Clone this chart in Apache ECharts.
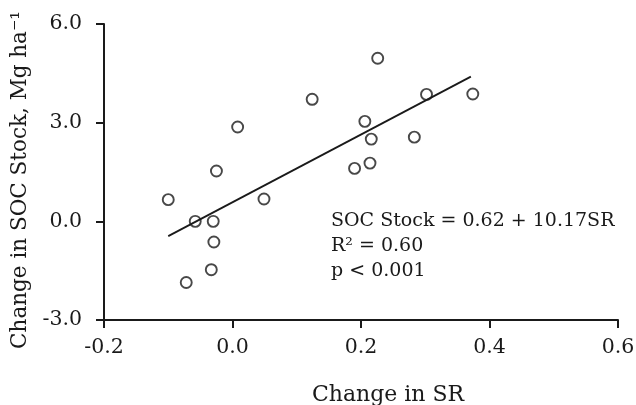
<!DOCTYPE html>
<html><head><meta charset="utf-8">
<script src="https://cdn.jsdelivr.net/npm/echarts@6/dist/echarts.min.js"></script>
<style>html,body{margin:0;padding:0;background:#fff;}#c{width:636px;height:405px;}</style>
</head><body><div id="c"></div>
<script>
// Data
const srChange = [0.124, 0.008, -0.025, -0.100, 0.049, 0.226, 0.302, 0.374, 0.206, 0.216, 0.283, 0.214, 0.190, -0.058, -0.030, -0.029, -0.033, -0.072];
const socChange = [3.71, 2.87, 1.53, 0.66, 0.68, 4.96, 3.86, 3.87, 3.04, 2.50, 2.56, 1.77, 1.61, 0.00, 0.00, -0.63, -1.47, -1.86];
const fitX = [-0.100, 0.371];
const fitY = [-0.45, 4.40];
const xTicks = [-0.2, 0.0, 0.2, 0.4, 0.6];
const yTicks = [-3.0, 0.0, 3.0, 6.0];
const annotation = ['SOC Stock = 0.62 + 10.17SR', 'R² = 0.60', 'p < 0.001'];

const FONT = 'DejaVu Serif';
const chart = echarts.init(document.getElementById('c'));
chart.setOption({
  animation: false,
  backgroundColor: '#fff',
  grid: {left: 104, right: 18, top: 24, bottom: 85, containLabel: false, outerBoundsMode: 'none'},
  xAxis: {
    type: 'value', min: xTicks[0], max: xTicks[xTicks.length-1], interval: 0.2,
    splitLine: {show: false},
    axisLine: {onZero: false, lineStyle: {color: '#1a1a1a', width: 2}},
    axisTick: {length: 8, lineStyle: {color: '#1a1a1a', width: 2}},
    axisLabel: {margin: 17, color: '#1a1a1a', fontFamily: FONT, fontSize: 20.5,
      formatter: v => v.toFixed(1)},
    name: 'Change in SR', nameLocation: 'middle', nameGap: 64,
    nameTextStyle: {color: '#1a1a1a', fontFamily: FONT, fontSize: 22, padding: [0, 0, 0, 54]}
  },
  yAxis: {
    type: 'value', min: yTicks[0], max: yTicks[yTicks.length-1], interval: 3,
    splitLine: {show: false},
    axisLine: {show: true, onZero: false, lineStyle: {color: '#1a1a1a', width: 2}},
    axisTick: {show: true, length: 8, lineStyle: {color: '#1a1a1a', width: 2}},
    axisLabel: {margin: 22, color: '#1a1a1a', fontFamily: FONT, fontSize: 20.5,
      formatter: v => v.toFixed(1)},
    name: 'Change in SOC Stock, Mg ha⁻¹', nameLocation: 'middle', nameGap: 66,
    nameTextStyle: {color: '#1a1a1a', fontFamily: FONT, fontSize: 21.5, padding: [0, 16, 0, 0]}
  },
  series: [
    {
      type: 'line', data: fitX.map((x, i) => [x, fitY[i]]), symbol: 'none',
      lineStyle: {color: '#1a1a1a', width: 1.8}, z: 2
    },
    {
      type: 'scatter', data: srChange.map((x, i) => [x, socChange[i]]),
      symbol: 'circle', symbolSize: 11,
      itemStyle: {color: 'rgba(255,255,255,0)', borderColor: '#1a1a1a', borderWidth: 1.9}, z: 3
    }
  ],
  graphic: [{
    type: 'text', left: 331, top: 209,
    style: {text: annotation.join('\n'), fontFamily: FONT, fontSize: 19, lineHeight: 25, fill: '#1a1a1a'}
  }]
});
</script></body></html>
